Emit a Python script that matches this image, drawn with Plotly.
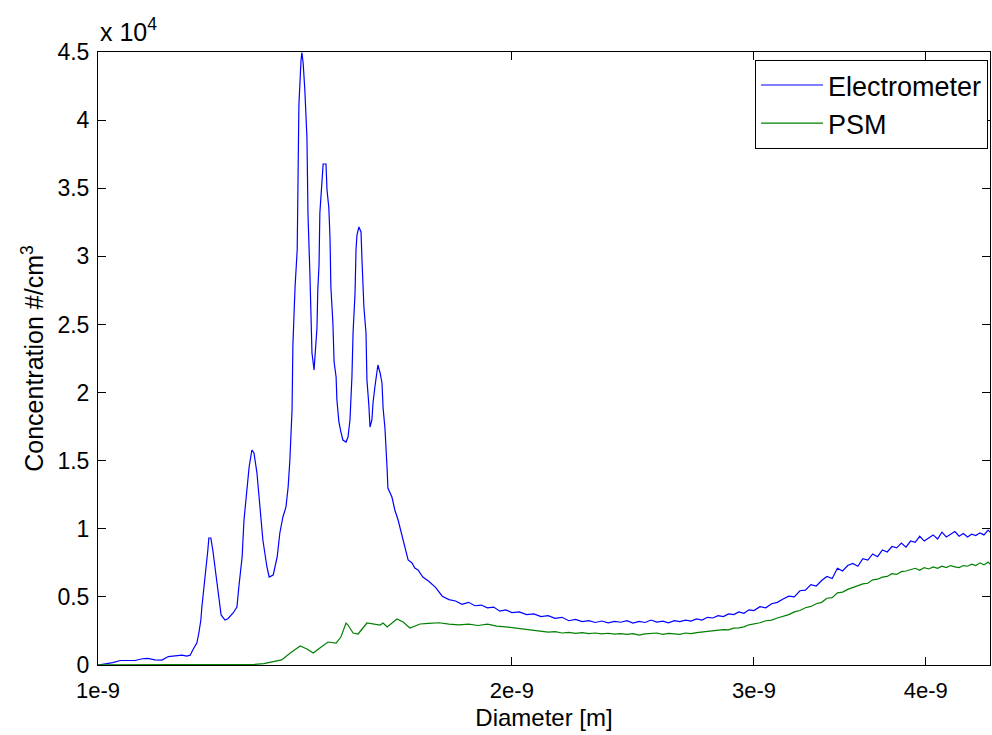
import plotly.graph_objects as go

# ---- Electrometer (blue) : diameter in nm, concentration in #/cm^3 ----
elec_nm = [
    1.000, 1.012, 1.025, 1.038, 1.052, 1.064, 1.077, 1.087, 1.100, 1.113,
    1.125, 1.138, 1.151, 1.160, 1.167, 1.172, 1.180, 1.184, 1.188, 1.190,
    1.194, 1.198, 1.202, 1.204, 1.208, 1.212, 1.218, 1.223, 1.229, 1.237,
    1.243, 1.254, 1.262, 1.266, 1.273, 1.277, 1.283, 1.288, 1.294, 1.2985,
    1.305, 1.312, 1.318, 1.327, 1.332, 1.341, 1.350, 1.356, 1.363, 1.370,
    1.375, 1.379, 1.384, 1.386, 1.391, 1.396, 1.398, 1.400, 1.405, 1.407,
    1.410, 1.414, 1.419, 1.4215, 1.426, 1.429, 1.431, 1.436, 1.438, 1.443,
    1.445, 1.448, 1.450, 1.455, 1.458, 1.465, 1.4675, 1.472, 1.475, 1.477,
    1.482, 1.485, 1.490, 1.492, 1.497, 1.502, 1.507, 1.515, 1.520, 1.525,
    1.530, 1.533, 1.538, 1.5405, 1.543, 1.548, 1.5535, 1.556, 1.561, 1.5665,
    1.569, 1.574, 1.577, 1.582, 1.585, 1.590, 1.596, 1.598, 1.604, 1.609,
    1.612, 1.617, 1.623, 1.625, 1.636, 1.644, 1.653, 1.664, 1.672, 1.681,
    1.692, 1.700, 1.709, 1.723,
    1.74, 1.76, 1.78, 1.80, 1.82, 1.84, 1.86, 1.88, 1.90, 1.92,
    1.94, 1.96, 1.98, 2.00, 2.025, 2.05, 2.075, 2.10, 2.125, 2.15,
    2.175, 2.20, 2.225, 2.25, 2.275, 2.30, 2.325, 2.35, 2.375, 2.40,
    2.425, 2.45, 2.475, 2.50, 2.525, 2.55, 2.575, 2.60, 2.625, 2.65,
    2.675, 2.70, 2.725, 2.75, 2.775, 2.80, 2.825, 2.85, 2.875, 2.90,
    2.925, 2.95, 2.975, 3.00, 3.03, 3.06, 3.09, 3.12, 3.15, 3.18,
    3.21, 3.24, 3.27, 3.30, 3.33, 3.36, 3.39, 3.42, 3.45, 3.48,
    3.51, 3.54, 3.57, 3.60, 3.63, 3.66, 3.69, 3.72, 3.75, 3.78,
    3.81, 3.84, 3.87, 3.90, 3.93, 3.96, 3.99, 4.02, 4.05, 4.08,
    4.11, 4.14, 4.17, 4.20, 4.23, 4.26, 4.29, 4.32, 4.35, 4.38,
    4.41, 4.44, 4.455,
]
elec_conc = [
    0, 60, 180, 330, 320, 330, 460, 480, 380, 360,
    620, 700, 730, 650, 720, 1100, 1615, 2349, 3303, 4258,
    5506, 7194, 8442, 9323, 9323, 8442, 6827, 5286, 3671, 3303,
    3400, 3817, 4258, 5726, 7928, 10644, 12627, 14535, 15783, 15563,
    14095, 11599, 9176, 7194, 6460, 6607, 7928, 9690, 10865, 11599,
    13067, 15049, 18720, 23491, 27749, 30465, 36852, 41110, 44413, 44950,
    44193, 42211, 38687, 33035, 28777, 24446, 22904, 21656, 22390, 24739,
    27529, 29364, 33181, 35384, 36778, 36778, 34870, 33548, 31199, 27749,
    25106, 22243, 21142, 19454, 17839, 17105, 16517, 16370, 16737, 17985,
    21142, 24446, 27309, 30465, 31566, 32153, 31786, 29731, 26281, 24373,
    20922, 19087, 17472, 17985, 19233, 20408, 21803, 22023, 21436, 20702,
    18867, 17398, 14315, 12994, 12333, 11379, 10644, 9396, 8589, 7708,
    7488, 7121, 6974, 6460,
    6150, 5700, 5050, 4800, 4700, 4450, 4600, 4350, 4400, 4200,
    4250, 3950, 4050, 3850, 3900, 3700, 3750, 3550, 3620, 3430,
    3500, 3250, 3350, 3180, 3250, 3120, 3230, 3100, 3200, 3140,
    3250, 3080, 3200, 3120, 3300, 3150, 3220, 3100, 3260, 3180,
    3300, 3220, 3380, 3300, 3500, 3450, 3620, 3550, 3750, 3700,
    3900, 3800, 4050, 4000, 4280, 4200, 4500, 4600, 4850, 5050,
    5000, 5450, 5500, 5900, 5800, 6200, 6500, 6350, 7100, 6900,
    7300, 7450, 7250, 7800, 7700, 8150, 7950, 8450, 8300, 8700,
    8600, 8950, 8650, 9100, 9000, 9450, 9100, 9350, 9550, 9250,
    9750, 9400, 9600, 9800, 9450, 9650, 9400, 9600, 9500, 9700,
    9550, 9900, 9750,
]

# ---- PSM (green) ----
psm_nm = [
    1.000, 1.05, 1.10, 1.15, 1.20, 1.25, 1.28, 1.30, 1.32, 1.34,
    1.36, 1.38, 1.403, 1.419, 1.434, 1.450, 1.470, 1.490, 1.502, 1.515,
    1.520, 1.533, 1.546, 1.569, 1.585, 1.604, 1.612, 1.623, 1.650, 1.667,
    1.686, 1.715,
    1.74, 1.77, 1.80, 1.83, 1.86, 1.89, 1.92, 1.95, 1.98, 2.00,
    2.025, 2.05, 2.075, 2.10, 2.125, 2.15, 2.175, 2.20, 2.225, 2.25,
    2.275, 2.30, 2.325, 2.35, 2.375, 2.40, 2.425, 2.45, 2.475, 2.50,
    2.525, 2.55, 2.575, 2.60, 2.625, 2.65, 2.675, 2.70, 2.725, 2.75,
    2.775, 2.80, 2.825, 2.85, 2.875, 2.90, 2.925, 2.95, 2.975, 3.00,
    3.03, 3.06, 3.09, 3.12, 3.15, 3.18, 3.21, 3.24, 3.27, 3.30,
    3.33, 3.36, 3.39, 3.42, 3.45, 3.48, 3.51, 3.54, 3.57, 3.60,
    3.63, 3.66, 3.69, 3.72, 3.75, 3.78, 3.81, 3.84, 3.87, 3.90,
    3.93, 3.96, 3.99, 4.02, 4.05, 4.08, 4.11, 4.14, 4.17, 4.20,
    4.23, 4.26, 4.29, 4.32, 4.35, 4.38, 4.41, 4.44, 4.455,
]
psm_conc = [
    20, 30, 30, 40, 40, 60, 50, 40, 100, 220,
    370, 880, 1395, 1175, 881, 1248, 1688, 1615, 2055, 3083,
    2936, 2349, 2276, 3083, 3010, 2936, 3083, 2790, 3377, 3157,
    2716, 3010,
    3050, 3100, 3000, 2950, 3000, 2900, 3000, 2850, 2800, 2750,
    2700, 2600, 2550, 2480, 2420, 2450, 2350, 2400, 2320, 2380,
    2300, 2350, 2280, 2330, 2260, 2300, 2250, 2300, 2200, 2280,
    2300, 2350, 2250, 2320, 2280, 2250, 2350, 2300, 2380, 2420,
    2450, 2500, 2560, 2600, 2580, 2700, 2720, 2800, 2950, 3000,
    3100, 3250, 3300, 3450, 3550, 3700, 3900, 4000, 4200, 4300,
    4500, 4600, 4900, 4950, 5300, 5350, 5550, 5700, 5800, 5950,
    6000, 6250, 6300, 6450, 6500, 6700, 6650, 6850, 6900, 7000,
    7100, 6950, 7150, 7050, 7200, 7100, 7250, 7150, 7300, 7200,
    7150, 7300, 7250, 7400, 7300, 7500, 7350, 7550, 7400,
]

x_tick_vals = [1e-9, 2e-9, 3e-9, 4e-9]
x_tick_text = ["1e-9", "2e-9", "3e-9", "4e-9"]
y_tick_vals = [0, 5000, 10000, 15000, 20000, 25000, 30000, 35000, 40000, 45000]
y_tick_text = ["0", "0.5", "1", "1.5", "2", "2.5", "3", "3.5", "4", "4.5"]

FONT = "Liberation Sans, Arial, sans-serif"

fig = go.Figure()
fig.add_trace(go.Scatter(
    x=[v * 1e-9 for v in elec_nm], y=elec_conc, mode="lines",
    name="Electrometer", line=dict(color="#0000FF", width=1.2)))
fig.add_trace(go.Scatter(
    x=[v * 1e-9 for v in psm_nm], y=psm_conc, mode="lines",
    name="PSM", line=dict(color="#008000", width=1.2)))

axis_common = dict(
    showline=True, linecolor="black", linewidth=1, mirror="allticks",
    ticks="inside", ticklen=8, tickcolor="black", tickwidth=1,
    showgrid=False, zeroline=False,
)

fig.update_xaxes(
    type="log", range=[-9, -8.3512],
    tickvals=x_tick_vals, ticktext=x_tick_text,
    tickfont=dict(family=FONT, size=22, color="black"),
    ticklabelstandoff=6,
    title=dict(text="Diameter [m]", font=dict(family=FONT, size=24, color="black"),
               standoff=6),
    **axis_common,
)
fig.update_yaxes(
    range=[0, 45000],
    tickvals=y_tick_vals, ticktext=y_tick_text,
    tickfont=dict(family=FONT, size=23, color="black"),
    ticklabelstandoff=3,
    title=dict(text="Concentration #/cm<sup>3</sup>",
               font=dict(family=FONT, size=25, color="black"), standoff=6),
    **axis_common,
)

fig.add_annotation(
    xref="paper", yref="paper", x=0, y=1, xanchor="left", yanchor="bottom",
    yshift=4, text="x 10<sup>4</sup>", showarrow=False,
    font=dict(family=FONT, size=25, color="black"),
)

fig.update_layout(
    width=992, height=735,
    margin=dict(l=98, r=2, t=52, b=70),
    paper_bgcolor="white", plot_bgcolor="white",
    showlegend=True,
    legend=dict(
        x=0.9978, y=0.987, xanchor="right", yanchor="top",
        bgcolor="white", bordercolor="black", borderwidth=1,
        font=dict(family=FONT, size=27, color="black"),
        itemwidth=62, tracegroupgap=0,
    ),
)

fig.write_html("out.html")
